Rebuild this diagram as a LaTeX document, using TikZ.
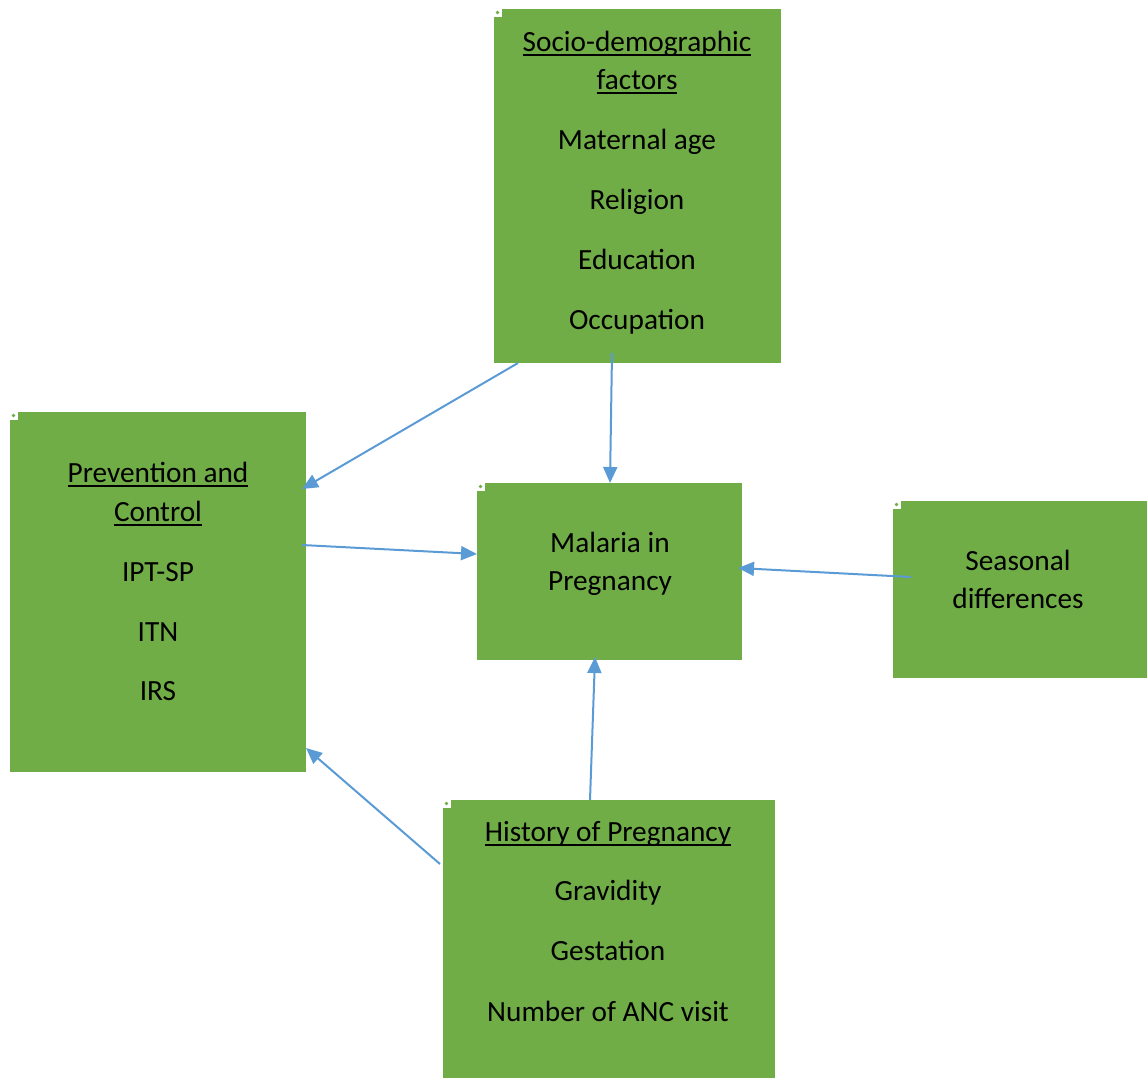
\documentclass[tikz,border=0pt]{standalone}
\usepackage{fontspec}
\setmainfont{Carlito}
\usetikzlibrary{arrows.meta,calc}
\definecolor{boxgreen}{HTML}{70AD47}
\definecolor{arrowblue}{HTML}{5B9BD5}
\newcommand{\ulbox}[1]{{\setbox0\hbox{#1}\rlap{\rule[-4.5pt]{\wd0}{1.3pt}}\box0}}
\begin{document}
\begin{tikzpicture}[x=1pt,y=-1pt,
  gbox/.style={fill=boxgreen,draw=none,inner sep=0pt,anchor=north west},
  lbl/.style={font=\fontsize{29.3}{34}\selectfont,anchor=base,inner sep=0pt},
  conn/.style={draw=arrowblue,line width=2pt,-{Triangle[length=16pt,width=14pt]}},
  mark/.style={fill=white,draw=none}
]
\useasboundingbox (0,0) rectangle (1147,1079);
% boxes
\node[gbox,minimum width=287pt,minimum height=354pt] (soc) at (494,9) {};
\node[gbox,minimum width=296pt,minimum height=360pt] (prev) at (10,412) {};
\node[gbox,minimum width=265pt,minimum height=177pt] (mal) at (477,483) {};
\node[gbox,minimum width=254pt,minimum height=177pt] (sea) at (893,501) {};
\node[gbox,minimum width=332pt,minimum height=278pt] (hist) at (443,800) {};
% corner marks
\foreach \n in {soc,prev,mal,sea,hist}{
  \fill[white] (\n.north west) rectangle ++(8,8);
  \fill[boxgreen] ($(\n.north west)+(3.5,3.5)$) circle (1.8);
}
% texts
\node[lbl] (t1) at (637,51) {\ulbox{Socio-demographic}};
\node[lbl] (t2) at (637,89) {\ulbox{factors}};
\node[lbl] (t3) at (637,149) {Maternal age};
\node[lbl] (t4) at (637,209) {Religion};
\node[lbl] (t5) at (637,269) {Education};
\node[lbl] (t6) at (637,329) {Occupation};
\node[lbl] (p1) at (158,482) {\ulbox{Prevention and}};
\node[lbl] (p2) at (158,521) {\ulbox{Control}};
\node[lbl] (p3) at (158,581) {IPT-SP};
\node[lbl] (p4) at (158,641) {ITN};
\node[lbl] (p5) at (158,700) {IRS};
\node[lbl] (m1) at (610,552) {Malaria in};
\node[lbl] (m2) at (610,590) {Pregnancy};
\node[lbl] (s1) at (1018,570) {Seasonal};
\node[lbl] (s2) at (1018,608) {differences};
\node[lbl] (h1) at (608,841) {\ulbox{History of Pregnancy}};
\node[lbl] (h2) at (608,900) {Gravidity};
\node[lbl] (h3) at (608,960) {Gestation};
\node[lbl] (h4) at (608,1021) {Number of ANC visit};
% connector end points
\coordinate (socA) at (518,363);
\coordinate (prevA) at (302,489);
\coordinate (socB) at (612,353);
\coordinate (malA) at (610,483);
\coordinate (prevB) at (302,545);
\coordinate (malB) at (477,554);
\coordinate (seaA) at (911,577);
\coordinate (malC) at (738,568);
\coordinate (histA) at (590,800);
\coordinate (malD) at (595,657);
\coordinate (histB) at (440,864);
\coordinate (prevC) at (306,748);
\draw[conn] (socA) -- (prevA);
\draw[conn] (socB) -- (malA);
\draw[conn] (prevB) -- (malB);
\draw[conn] (seaA) -- (malC);
\draw[conn] (histA) -- (malD);
\draw[conn] (histB) -- (prevC);
\end{tikzpicture}
\end{document}
